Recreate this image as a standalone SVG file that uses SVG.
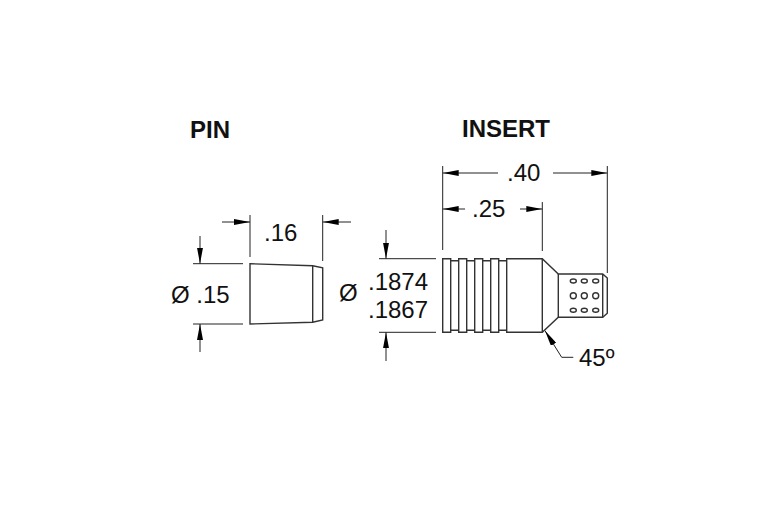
<svg xmlns="http://www.w3.org/2000/svg" width="780" height="520" viewBox="0 0 780 520">
<defs>
<style>
text{font-family:"Liberation Sans",Arial,sans-serif;font-size:24px;fill:#111}
.t{font-weight:bold;font-size:24px}
.o{fill:none;stroke:#333;stroke-width:1.4}
.d{fill:none;stroke:#222;stroke-width:1}
</style>
<marker id="a" markerWidth="16" markerHeight="6" refX="16" refY="3" orient="auto" markerUnits="userSpaceOnUse"><path d="M0 0L16 3L0 6Z" fill="#000"/></marker>
</defs>
<rect width="780" height="520" fill="#fff"/>
<g id="pin">
<path class="o" d="M250 263.7L312.7 265.7L322.7 267.7V320L312.7 322.3L250 324Z"/>
<path class="o" d="M312.7 265.7V322.3"/>
</g>
<g id="insert">
<path class="o" d="M442.7 258.7H450.7V332.3H442.7Z"/>
<path class="o" d="M458.7 258.7H466.7V332.3H458.7Z"/>
<path class="o" d="M474.7 258.7H482.7V332.3H474.7Z"/>
<path class="o" d="M490.7 258.7H498.7V332.3H490.7Z"/>
<path class="o" d="M450.7 260.7H458.7M466.7 260.7H474.7M482.7 260.7H490.7M498.7 260.7H506.7M450.7 330.3H458.7M466.7 330.3H474.7M482.7 330.3H490.7M498.7 330.3H506.7"/>
<path class="o" d="M506.7 258.7H542.3L558.3 274H602.7L607.3 278V313.3L602.7 317.3H558.3L542.3 332.3H506.7Z"/>
<path class="o" d="M542.3 258.7V332.3M558.3 274V317.3M602.7 274V317.3"/>
<g class="o" stroke-width="1">
<ellipse cx="573.3" cy="281" rx="3" ry="2"/><ellipse cx="584.3" cy="281" rx="3" ry="2"/><ellipse cx="595.7" cy="281" rx="3" ry="2"/>
<ellipse cx="573.3" cy="295.7" rx="3" ry="3"/><ellipse cx="584.3" cy="295.7" rx="3" ry="3"/><ellipse cx="595.7" cy="295.7" rx="3" ry="3"/>
<ellipse cx="573.3" cy="310.3" rx="3" ry="2"/><ellipse cx="584.3" cy="310.3" rx="3" ry="2"/><ellipse cx="595.7" cy="310.3" rx="3" ry="2"/>
</g>
</g>
<g id="connectors">
<path class="d" d="M250 215V257M322.7 215V261M193 263.7H243M193 324H243M442.7 166V250M542.3 202V251M607.3 166V273M379 258.7H436M379 332.3H436"/>
<path class="d" marker-end="url(#a)" d="M222 222H250"/>
<path class="d" marker-end="url(#a)" d="M351 222H322.7"/>
<path class="d" marker-end="url(#a)" d="M200 236V263.7"/>
<path class="d" marker-end="url(#a)" d="M200 352V324"/>
<path class="d" marker-end="url(#a)" d="M498 173H442.7"/>
<path class="d" marker-end="url(#a)" d="M553 173H607.3"/>
<path class="d" marker-end="url(#a)" d="M465 209H442.7"/>
<path class="d" marker-end="url(#a)" d="M520 209H542.3"/>
<path class="d" marker-end="url(#a)" d="M386 230V258.7"/>
<path class="d" marker-end="url(#a)" d="M386 361V332.3"/>
<path class="d" marker-end="url(#a)" d="M573.3 357.3H561.7L545 330.7"/>
</g>
<g id="labels">
<text class="t" x="190" y="138">PIN</text>
<text class="t" x="462" y="137">INSERT</text>
<text x="264" y="241">.16</text>
<text x="171" y="303">Ø .15</text>
<text x="339" y="301">Ø</text>
<text x="368" y="290">.1874</text>
<text x="368" y="318">.1867</text>
<text x="507" y="181">.40</text>
<text x="472" y="217">.25</text>
<text x="579" y="366">45º</text>
</g>
</svg>
